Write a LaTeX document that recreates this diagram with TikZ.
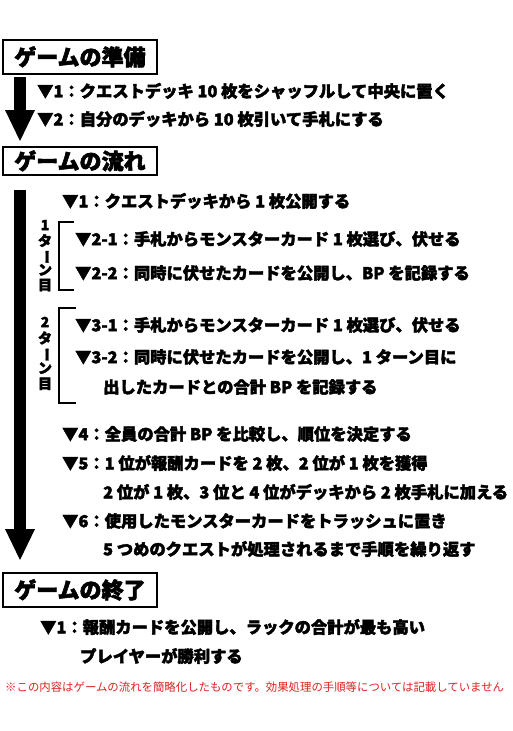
\documentclass[tikz,border=0pt]{standalone}
\usepackage{fontspec}
\usepackage{graphicx}
\setmainfont{Noto Sans CJK JP}
\newfontfamily\heavy[BoldFeatures={FakeBold=2.5}]{Noto Sans CJK JP}
\definecolor{notered}{RGB}{226,32,32}
\newcommand{\vchoon}{\rotatebox[origin=c]{-90}{ー}}
\newcommand{\turnstack}[2]{\renewcommand{\arraystretch}{1}\fontsize{14}{#2}\selectfont\begin{tabular}{@{}c@{}}#1\\タ\\\vchoon\\ン\\目\end{tabular}}
\tikzset{
  titlebox/.style={draw, line width=1.8pt, anchor=north west, inner sep=0pt,
    minimum width=154pt, font=\heavy\fontsize{22}{22}\selectfont\bfseries},
  stepline/.style={anchor=west, inner sep=0pt, font=\heavy\fontsize{16.3}{16.3}\selectfont\bfseries},
  turnlabel/.style={inner sep=0pt, font=\heavy\fontsize{14}{14}\selectfont\bfseries},
  bigarrow/.style={fill=black, draw=none},
  bracketline/.style={line width=2.8pt, line cap=butt, line join=miter},
  notetext/.style={anchor=west, inner sep=0pt, text=notered, font=\fontsize{11.4}{11.4}\selectfont}
}
\begin{document}
\begin{tikzpicture}[x=1pt, y=-1pt]
\useasboundingbox[fill=white] (0,0) rectangle (512,731);

% Section 1
\node[titlebox, minimum height=34pt] (t1) at (2,39) {ゲームの準備};
\fill[bigarrow] (14,77) rectangle (26,111);
\fill[bigarrow] (5,110) -- (35,110) -- (20,141) -- cycle;
\node[stepline] (s11) at (37,91) {▼1：クエストデッキ 10 枚をシャッフルして中央に置く};
\node[stepline] (s12) at (37,119) {▼2：自分のデッキから 10 枚引いて手札にする};

% Section 2
\node[titlebox, minimum height=28pt] (t2) at (2,146) {ゲームの流れ};
\fill[bigarrow] (14,190) rectangle (26,530);
\fill[bigarrow] (5,529) -- (35,529) -- (20,560) -- cycle;
\node[stepline] (s21) at (62,201) {▼1：クエストデッキから 1 枚公開する};

\draw[bracketline] (74,222) -- (59,222) -- (59,290) -- (74,290);
\node[turnlabel] (l1) at (45,257) {\turnstack{1}{13}};
\node[stepline] (s221) at (75,239) {▼2-1：手札からモンスターカード 1 枚選び、伏せる};
\node[stepline] (s222) at (75,273) {▼2-2：同時に伏せたカードを公開し、BP を記録する};

\draw[bracketline] (76,308) -- (59,308) -- (59,403) -- (76,403);
\node[turnlabel] (l2) at (45,355) {\turnstack{2}{14.5}};
\node[stepline] (s231) at (75,325) {▼3-1：手札からモンスターカード 1 枚選び、伏せる};
\node[stepline] (s232) at (75,357) {▼3-2：同時に伏せたカードを公開し、1 ターン目に};
\node[stepline] (s233) at (103,387) {出したカードとの合計 BP を記録する};

\node[stepline] (s24) at (62,434) {▼4：全員の合計 BP を比較し、順位を決定する};
\node[stepline] (s25) at (62,463) {▼5：1 位が報酬カードを 2 枚、2 位が 1 枚を獲得};
\node[stepline] (s25b) at (103,492) {2 位が 1 枚、3 位と 4 位がデッキから 2 枚手札に加える};
\node[stepline] (s26) at (62,521) {▼6：使用したモンスターカードをトラッシュに置き};
\node[stepline] (s26b) at (103,549) {5 つめのクエストが処理されるまで手順を繰り返す};

% Section 3
\node[titlebox, minimum height=34pt] (t3) at (2,572) {ゲームの終了};
\node[stepline] (s31) at (40,627) {▼1：報酬カードを公開し、ラックの合計が最も高い};
\node[stepline] (s31b) at (80,656) {プレイヤーが勝利する};

\node[notetext] (note) at (5,687) {※この内容はゲームの流れを簡略化したものです。効果処理の手順等については記載していません};
\end{tikzpicture}
\end{document}
